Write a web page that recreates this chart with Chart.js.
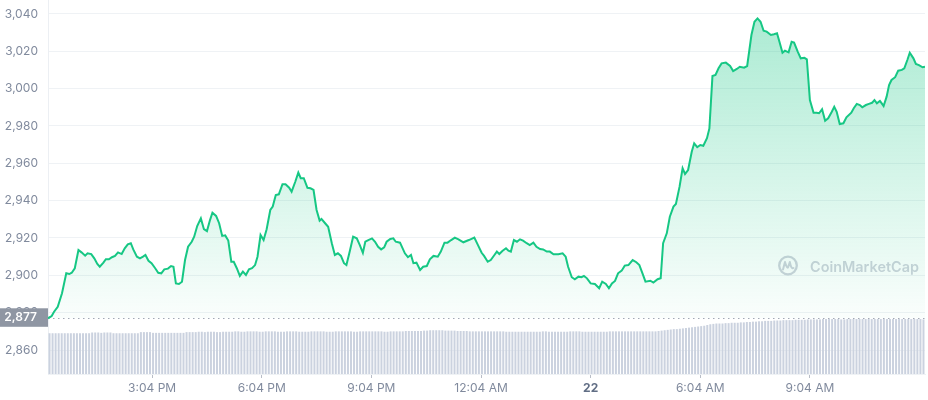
<!DOCTYPE html>
<html><head><meta charset="utf-8">
<script src="https://cdn.jsdelivr.net/npm/chart.js@4"></script>
<style>html,body{margin:0;padding:0;background:#fff}canvas{display:block}</style>
</head><body>
<canvas id="c" width="928" height="400"></canvas>
<script>
// minutes elapsed since 12:13 PM (start of the 24h window)
const priceMinutes = [
0,6,10,16,23,30,35,39,44,50,55,61,65,71,76,81,85,91,95,100,105,110,115,121,126,131,136,140,146,151,156,160,165,170,176,181,186,191,197,202,206,210,215,220,225,230,236,240,245,251,256,261,266,270,276,281,286,291,
296,301,305,310,315,320,325,330,335,340,344,349,354,359,365,369,374,379,385,390,396,400,406,411,415,420,426,431,436,441,446,449,455,460,466,471,476,481,486,490,496,501,507,512,517,521,526,532,537,542,547,552,556,562,567,571,578,
586,591,596,600,605,611,616,622,627,633,640,645,651,656,662,668,674,682,691,700,706,712,716,722,727,733,737,741,746,752,756,760,765,770,775,780,786,791,797,802,808,813,819,824,830,838,845,850,854,860,865,
871,876,880,885,891,898,905,910,916,921,926,931,936,942,947,953,960,966,971,977,981,989,994,1001,1006,1010,1016,1021,1027,1031,1037,1042,1046,1051,1057,1061,1066,1071,1076,1082,1086,1091,1096,1101,1106,1113,1120,1125,1131,1136,1143,1148,
1155,1160,1165,1170,1175,1180,1187,1192,1197,1201,1206,1210,1216,1221,1225,1231,1236,1242,1246,1251,1257,1262,1266,1271,1276,1281,1287,1291,1295,1300,1306,1311,1319,1323,1328,1333,1337,1343,1348,1353,1357,1361,1366,1372,1377,1381,1385,1391,1396,1402,1406,1411,1415,1421,1425,1430,1436,1440
];
const prices = [
2877.0,2878.2,2880.5,2883.2,2890.4,2901.1,2900.7,2901.4,2903.8,2913.6,2912.3,2910.5,2911.8,2911.4,2909.1,2906.1,2904.6,2906.8,2908.6,2908.6,2909.7,2910.4,2912.3,2911.4,2914.5,2916.6,2917.2,2913.9,2910.0,2909.1,2910.0,2910.9,2907.8,2906.5,2903.8,2901.4,2901.1,2903.2,2903.6,2905.0,2904.6,2895.7,2895.4,2896.6,2908.2,2915.3,2918.0,2920.7,2926.4,2930.5,2924.7,2923.7,2929.6,2933.5,2931.8,2927.9,2921.1,2921.4,
2918.6,2907.3,2907.3,2903.8,2899.7,2902.0,2900.2,2903.2,2903.8,2905.5,2910.0,2921.6,2918.9,2924.7,2935.0,2936.8,2943.0,2943.4,2948.8,2948.8,2946.9,2944.8,2950.1,2955.0,2952.0,2952.0,2946.9,2946.6,2945.7,2935.0,2929.3,2930.2,2927.9,2926.0,2917.2,2910.9,2911.8,2910.4,2906.5,2905.5,2913.6,2920.7,2919.8,2916.2,2912.1,2918.0,2918.9,2919.8,2918.0,2915.3,2913.9,2915.0,2918.0,2919.5,2919.8,2918.0,2917.5,
2911.8,2909.7,2910.9,2906.5,2906.8,2902.9,2904.6,2905.0,2908.6,2910.4,2910.0,2912.7,2917.5,2917.5,2918.9,2920.2,2919.3,2917.7,2918.9,2920.2,2916.2,2912.1,2910.4,2907.3,2908.2,2910.9,2912.7,2911.4,2913.0,2914.5,2913.2,2912.7,2918.9,2918.0,2919.3,2918.6,2917.2,2916.2,2917.5,2915.3,2914.1,2913.9,2912.7,2912.7,2911.3,2911.3,2911.8,2910.0,2904.6,2899.0,2897.9,
2899.3,2899.0,2899.7,2898.4,2895.7,2895.4,2893.1,2896.6,2895.4,2893.1,2895.7,2897.0,2901.1,2902.5,2905.2,2905.5,2908.2,2907.0,2905.5,2900.2,2896.6,2897.1,2896.1,2897.9,2898.4,2917.2,2922.5,2931.4,2936.8,2938.2,2947.5,2957.3,2954.3,2956.4,2966.2,2970.7,2968.6,2969.8,2969.4,2973.4,2978.7,3006.7,3007.3,3010.9,3013.5,3013.9,3012.1,3009.4,3010.5,3011.7,3011.2,3012.1,
3028.7,3035.8,3037.6,3035.8,3031.0,3030.5,3028.7,3029.1,3029.6,3025.1,3019.2,3020.3,3019.4,3025.1,3024.6,3019.8,3016.2,3016.5,3015.7,2993.9,2987.1,2987.1,2986.8,2988.9,2982.8,2984.1,2987.6,2990.3,2987.6,2981.0,2981.4,2984.6,2987.1,2989.5,2991.8,2991.2,2990.0,2991.2,2991.8,2992.4,2993.9,2992.1,2993.4,2990.7,2995.7,3001.9,3004.6,3006.1,3009.6,3010.0,3010.9,3015.3,3019.2,3016.2,3013.2,3012.6,3011.4,3011.7
];
// 24h volume (billions USD), one bar per 5 minutes
const volumes = [
10.9,10.9,10.9,10.9,10.9,10.9,10.9,10.9,10.9,10.9,10.9,10.9,
10.9,10.9,11.1,11.1,11.1,11.0,11.1,11.1,11.1,10.9,10.9,10.9,
10.9,10.9,10.9,10.9,10.9,10.9,11.2,11.2,11.2,11.2,11.0,11.0,
11.0,11.0,11.0,11.0,11.0,11.0,11.0,11.0,11.0,11.2,11.2,11.2,
11.2,11.3,11.3,11.2,11.3,11.3,11.3,11.2,11.2,11.3,11.3,11.3,
11.3,11.4,11.4,11.3,11.3,11.4,11.4,11.4,11.4,11.3,11.3,11.4,
11.4,11.4,11.4,11.3,11.3,11.3,11.4,11.4,11.4,11.4,11.3,11.3,
11.3,11.3,11.4,11.4,11.4,11.4,11.4,11.3,11.3,11.3,11.4,11.4,
11.4,11.4,11.4,11.4,11.3,11.3,11.4,11.4,11.4,11.4,11.4,11.4,
11.4,11.4,11.3,11.3,11.4,11.4,11.4,11.4,11.4,11.5,11.5,11.5,
11.5,11.5,11.5,11.6,11.6,11.7,11.7,11.7,11.7,11.7,11.6,11.6,
11.6,11.6,11.5,11.5,11.5,11.5,11.4,11.4,11.4,11.4,11.4,11.4,
11.4,11.4,11.4,11.4,11.4,11.4,11.3,11.3,11.3,11.3,11.3,11.3,
11.3,11.3,11.3,11.3,11.3,11.3,11.4,11.4,11.3,11.3,11.3,11.3,
11.3,11.3,11.3,11.4,11.4,11.4,11.4,11.3,11.3,11.3,11.3,11.3,
11.3,11.3,11.3,11.3,11.4,11.4,11.4,11.4,11.4,11.4,11.4,11.4,
11.4,11.4,11.4,11.4,11.4,11.4,11.4,11.4,11.5,11.6,11.7,11.8,
11.9,12.0,12.0,12.1,12.2,12.3,12.4,12.5,12.6,12.7,12.8,12.9,
13.1,13.3,13.4,13.5,13.5,13.5,13.6,13.6,13.7,13.7,13.7,13.8,
13.8,13.9,13.9,14.0,14.0,14.1,14.1,14.2,14.2,14.2,14.3,14.3,
14.3,14.4,14.4,14.4,14.4,14.5,14.5,14.5,14.5,14.6,14.6,14.6,
14.6,14.6,14.7,14.7,14.7,14.7,14.7,14.7,14.6,14.6,14.7,14.7,
14.7,14.7,14.7,14.7,14.7,14.7,14.7,14.7,14.7,14.7,14.7,14.7,
14.7,14.7,14.7,14.7,14.7,14.7,14.7,14.7,14.7,14.7,14.7,14.6
];
const openPrice = 2877;
const yTickValues = [2860,2880,2900,2920,2940,2960,2980,3000,3020,3040];
const xTickMinutes = [171,351,531,711,891,1071,1251];
const xTickLabels = ['3:04 PM','6:04 PM','9:04 PM','12:04 AM','22','6:04 AM','9:04 AM'];
const dayLabel = '22';
const watermarkText = 'CoinMarketCap';

const GREEN = '#16c784';
Chart.defaults.font.family = 'Inter, "Noto Sans", sans-serif';

const decor = {
  id: 'decor',
  beforeDatasetsDraw(chart) {
    const {ctx, chartArea: a, scales: {y}} = chart;
    const py = Math.round(y.getPixelForValue(openPrice)) + 0.5;
    ctx.save();
    ctx.strokeStyle = '#a3a9b5';
    ctx.lineWidth = 1;
    ctx.setLineDash([1.5, 3.5]);
    ctx.beginPath(); ctx.moveTo(a.left, py); ctx.lineTo(a.right, py); ctx.stroke();
    ctx.setLineDash([]);
    // watermark
    const col = 'rgba(165,173,190,0.55)';
    const cx = a.right - 137, cy = a.top + 265.5;
    ctx.strokeStyle = col; ctx.lineWidth = 2.3;
    ctx.beginPath(); ctx.arc(cx, cy, 8.8, 0, Math.PI * 2); ctx.stroke();
    ctx.lineWidth = 2; ctx.lineJoin = 'round'; ctx.lineCap = 'round';
    ctx.beginPath();
    ctx.moveTo(cx - 5, cy + 4);
    ctx.lineTo(cx - 3, cy - 3.5);
    ctx.quadraticCurveTo(cx - 1.2, cy + 3, cx, cy + 2);
    ctx.lineTo(cx + 1.8, cy - 3.5);
    ctx.quadraticCurveTo(cx + 3.2, cy + 4, cx + 5.5, cy + 2.5);
    ctx.stroke();
    ctx.fillStyle = col;
    ctx.font = '600 15px Inter, sans-serif';
    ctx.textBaseline = 'alphabetic';
    ctx.textAlign = 'left';
    const w = ctx.measureText(watermarkText).width;
    const target = 109;
    const fs = 15 * target / w;
    ctx.font = '600 ' + fs.toFixed(2) + 'px Inter, sans-serif';
    ctx.fillText(watermarkText, a.right - 115, a.top + 272);
    ctx.restore();
  },
  afterDraw(chart) {
    const {ctx, chartArea: a, scales: {y}} = chart;
    const py = y.getPixelForValue(openPrice);
    ctx.save();
    ctx.fillStyle = '#8f96a3';
    ctx.fillRect(0, py - 10, a.left, 18.5);
    ctx.fillStyle = '#ffffff';
    ctx.font = '600 12px Inter, sans-serif';
    ctx.textAlign = 'right';
    ctx.textBaseline = 'middle';
    ctx.fillText(openPrice.toLocaleString('en-US'), a.left - 11, py - 0.5);
    ctx.restore();
  }
};

new Chart(document.getElementById('c'), {
  type: 'line',
  data: {
    datasets: [
      {
        data: priceMinutes.map((m, i) => ({x: m, y: prices[i]})),
        borderColor: GREEN,
        borderWidth: 2,
        pointRadius: 0,
        tension: 0,
        yAxisID: 'y',
        order: 1,
        fill: {value: openPrice},
        backgroundColor: (c) => {
          const ch = c.chart, a = ch.chartArea;
          if (!a) return 'rgba(22,199,132,0.1)';
          const y0 = ch.scales.y.getPixelForValue(3040);
          const y1 = ch.scales.y.getPixelForValue(openPrice);
          const g = ch.ctx.createLinearGradient(0, y0, 0, y1);
          g.addColorStop(0, 'rgba(22,199,132,0.36)');
          g.addColorStop(1, 'rgba(22,199,132,0.02)');
          return g;
        }
      },
      {
        type: 'bar',
        data: volumes.map((v, i) => ({x: i * 5 + 2.5, y: v})),
        yAxisID: 'yVol',
        backgroundColor: '#cbd2df',
        barThickness: 2,
        inflateAmount: 0,
        borderWidth: 0,
        order: 2
      }
    ]
  },
  options: {
    responsive: false,
    animation: false,
    devicePixelRatio: 1,
    layout: {padding: {left: 0, right: 3, top: 0, bottom: 0}},
    plugins: {legend: {display: false}, tooltip: {enabled: false}},
    scales: {
      x: {
        type: 'linear', min: 0, max: 1440, offset: false,
        afterBuildTicks: s => { s.ticks = xTickMinutes.map(v => ({value: v})); },
        afterFit: s => { s.height = 26; s.paddingLeft = 0; s.paddingRight = 0; },
        ticks: {
          autoSkip: false, maxRotation: 0, padding: 3,
          callback: v => xTickLabels[xTickMinutes.indexOf(v)],
          font: ctx => ({size: 12, weight: (ctx.tick && ctx.tick.label === dayLabel) ? '700' : '400'}),
          color: ctx => (ctx.tick && ctx.tick.label === dayLabel) ? '#616e85' : '#808a9d'
        },
        grid: {drawOnChartArea: false, drawTicks: true, tickLength: 4, color: '#b8bdc7', offset: false},
        border: {display: true, color: '#eff2f5'}
      },
      y: {
        min: 2847.17, max: 3047.44,
        afterBuildTicks: s => { s.ticks = yTickValues.map(v => ({value: v})); },
        afterFit: s => { s.width = 48; s.paddingTop = 0; s.paddingBottom = 0; },
        ticks: {
          callback: v => v.toLocaleString('en-US'),
          color: '#808a9d', font: {size: 12}, padding: 10
        },
        grid: {color: '#eff2f5', drawTicks: false},
        border: {display: true, color: '#eceff3'}
      },
      yVol: {display: false, min: 0, max: 100}
    }
  },
  plugins: [decor]
});
</script>
</body></html>
